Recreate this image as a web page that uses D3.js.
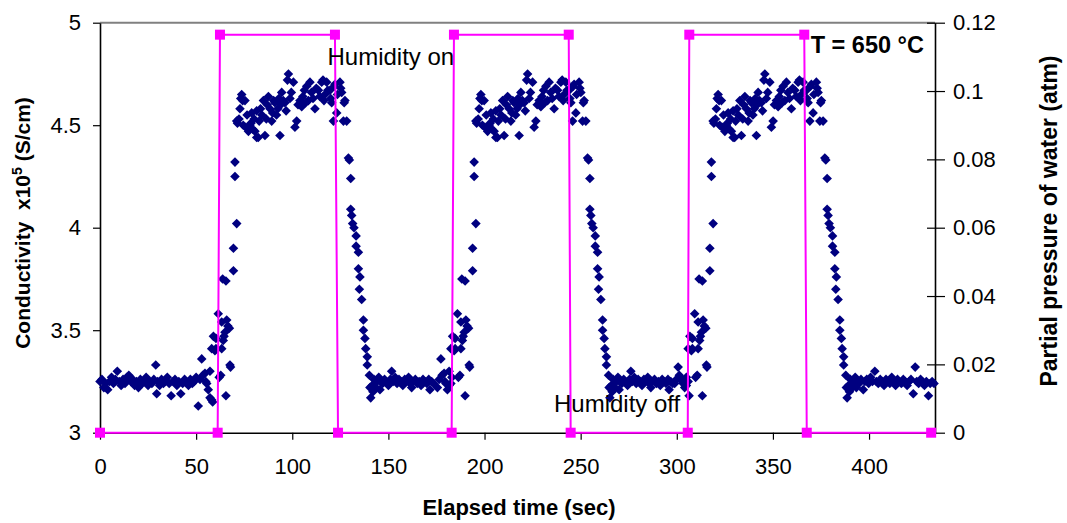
<!DOCTYPE html>
<html>
<head>
<meta charset="utf-8">
<script src="https://cdn.jsdelivr.net/npm/d3@7"></script>
<style>
  body { margin: 0; background: #fff; }
  svg { display: block; font-family: "Liberation Sans", Arial, sans-serif; }
  text { white-space: pre; }
</style>
</head>
<body>
<svg id="chart" width="1067" height="523"></svg>
<script>
// ---- axis ticks ----
const elapsedTicks = [0, 50, 100, 150, 200, 250, 300, 350, 400];
const conductivityTicks = [3, 3.5, 4, 4.5, 5];
const pressureTicks = [0, 0.02, 0.04, 0.06, 0.08, 0.1, 0.12];

// ---- partial pressure of water (atm) switched on/off ----
const pressureTime  = [0, 61.2, 62.4, 122.2, 123.8, 182.9, 184.1, 243.8, 244.8, 305.7, 306.5, 366.3, 367.6, 432.3];
const pressureValue = [0, 0, 0.1165, 0.1165, 0, 0, 0.1165, 0.1165, 0, 0, 0.1165, 0.1165, 0, 0];

// ---- conductivity x10^5 (S/cm) ----
// dry baseline before the first humidity step: [elapsed s, conductivity]
const initialBaseline = [
  [0,3.25],[1,3.26],[2,3.22],[3,3.24],[4,3.21],[5,3.25],[6,3.27],[7,3.24],[8,3.26],[9,3.30],
  [10,3.25],[11,3.23],[12,3.26],[13,3.24],[14,3.27],[15,3.28],[16,3.25],[17,3.26],[18,3.23],[19,3.25],
  [20,3.22],[21,3.26],[22,3.24],[23,3.25],[24,3.27],[25,3.23],[26,3.25],[27,3.24],[28,3.26],[29,3.33],
  [29.5,3.19],[30,3.25],[31,3.23],[32,3.26],[33,3.24],[34,3.25],[35,3.27],[36,3.24],[37,3.18],[38,3.25],
  [39,3.26],[40,3.23],[41,3.25],[42,3.19],[43,3.24],[44,3.26],[45,3.25],[46,3.23],[47,3.26],[48,3.24],
  [49,3.25],[50,3.27]
];

// start of each wet/dry cycle record (s); cycle arrays below use seconds from that start
const cycleStart = [50, 174.4, 297.8];

const cycle1 = [
  // rise
  [1.1,3.13],[2.0,3.26],[2.9,3.36],[3.5,3.28],[4.6,3.29],[5.0,3.25],[5.5,3.24],[6.3,3.21],[7.2,3.30],[7.2,3.17],
  [8.1,3.16],[8.6,3.15],[8.1,3.41],[9.0,3.47],[9.8,3.40],[10.3,3.46],[10.3,3.41],[11.5,3.58],[12.0,3.27],[12.8,3.28],
  [13.3,3.54],[13.3,3.41],[13.8,3.75],[14.1,3.45],[14.5,3.47],[15.0,3.49],[15.5,3.74],[15.5,3.18],[15.9,3.55],[16.5,3.52],
  [17.3,3.51],[17.6,3.33],[17.9,3.32],[19.4,3.79],[19.4,3.90],[20.2,4.25],[20.2,4.32],[21.1,4.02],
  // humid plateau
  [21.1,4.52],[21.5,4.51],[22.3,4.53],[22.8,4.58],[23.2,4.63],[23.7,4.65],[24.2,4.62],[24.5,4.50],[25.4,4.62],[25.8,4.49],
  [26.5,4.55],[27.2,4.47],[28.0,4.50],[28.5,4.51],[28.9,4.56],[29.5,4.48],[30.2,4.53],[30.6,4.47],[31.5,4.57],[31.5,4.44],
  [32.3,4.44],[32.8,4.52],[33.5,4.58],[34.2,4.55],[35.0,4.62],[35.8,4.45],[36.5,4.53],[37.0,4.60],[37.6,4.64],[38.4,4.58],
  [39.3,4.52],[39.8,4.56],[40.3,4.62],[41.0,4.61],[41.8,4.55],[42.5,4.58],[43.0,4.63],[43.6,4.45],[44.0,4.60],[44.5,4.66],
  [45.3,4.62],[46.2,4.61],[46.8,4.57],[47.5,4.72],[48.0,4.75],[48.8,4.63],[49.5,4.66],[50.6,4.71],[51.4,4.49],[52.3,4.52],
  [53.0,4.60],[54.0,4.62],[54.9,4.59],[55.5,4.64],[56.3,4.67],[57.0,4.61],[57.5,4.69],[58.4,4.62],[59.2,4.71],[60.0,4.66],
  [60.8,4.63],[61.8,4.58],[62.5,4.68],[63.6,4.67],[64.3,4.64],[65.3,4.71],[66.0,4.72],[66.5,4.62],[67.0,4.65],[67.9,4.71],
  [68.5,4.67],[69.6,4.67],[70.0,4.63],[70.5,4.61],[71.4,4.52],[71.8,4.69],[72.2,4.70],[73.1,4.56],[73.5,4.65],[74.8,4.71],
  [75.2,4.68],[75.7,4.66],[76.6,4.52],[77.0,4.61],[77.4,4.62],[78.3,4.52],
  // fall
  [79.2,4.34],[79.7,4.33],[80.4,4.24],[80.4,4.09],[80.9,4.06],[81.4,4.02],[82.1,4.00],[83.2,3.96],[83.2,3.91],[84.4,3.88],
  [84.4,3.80],[85.2,3.76],[84.9,3.70],[86.1,3.65],[87.0,3.55],[87.0,3.50],[87.8,3.46],[88.2,3.41],[89.0,3.37],[89.0,3.33],
  [90.1,3.28],[90.4,3.22],[90.8,3.17],
  // dry baseline
  [91.5,3.23],[92.0,3.20],[92.5,3.26],[93.0,3.24],[93.5,3.22],[94.0,3.25],[95.0,3.27],[95.6,3.21],[96.0,3.25],[97.0,3.24],
  [98.0,3.26],[99.0,3.25],[100.0,3.23],[101.0,3.26],[101.7,3.30],[102.5,3.25],[103.5,3.27],[104.5,3.24],[105.5,3.26],[106.5,3.25],
  [107.5,3.23],[108.5,3.26],[109.5,3.25],[110.5,3.27],[111.3,3.24],[112.1,3.22],[113.0,3.25],[114.0,3.26],[115.0,3.24],[116.0,3.25],
  [117.0,3.23],[118.0,3.26],[119.0,3.25],[120.0,3.24],[121.0,3.26],[121.6,3.21],[122.5,3.25],[123.5,3.24]
];

const cycle2 = [
  // rise
  [1.1,3.22],[2.0,3.26],[2.9,3.36],[3.5,3.28],[4.6,3.29],[5.0,3.25],[5.5,3.24],[6.3,3.21],[7.2,3.30],[7.2,3.23],
  [8.1,3.24],[8.6,3.27],[8.1,3.41],[9.0,3.47],[9.8,3.40],[10.3,3.46],[10.3,3.41],[11.5,3.58],[12.0,3.27],[12.8,3.28],
  [13.3,3.54],[13.3,3.41],[13.8,3.75],[14.1,3.45],[14.5,3.47],[15.0,3.49],[15.5,3.74],[15.5,3.18],[15.9,3.55],[16.5,3.52],
  [17.3,3.51],[17.6,3.33],[17.9,3.32],[19.4,3.79],[19.4,3.90],[20.2,4.25],[20.2,4.32],[21.1,4.02],
  // humid plateau
  [21.1,4.52],[21.5,4.51],[22.3,4.53],[22.8,4.58],[23.2,4.63],[23.7,4.65],[24.2,4.62],[24.5,4.50],[25.4,4.62],[25.8,4.49],
  [26.5,4.55],[27.2,4.47],[28.0,4.50],[28.5,4.51],[28.9,4.56],[29.5,4.48],[30.2,4.53],[30.6,4.47],[31.5,4.57],[31.5,4.44],
  [32.3,4.44],[32.8,4.52],[33.5,4.58],[34.2,4.55],[35.0,4.62],[35.8,4.45],[36.5,4.53],[37.0,4.60],[37.6,4.64],[38.4,4.58],
  [39.3,4.52],[39.8,4.56],[40.3,4.62],[41.0,4.61],[41.8,4.55],[42.5,4.58],[43.0,4.63],[43.6,4.45],[44.0,4.60],[44.5,4.66],
  [45.3,4.62],[46.2,4.61],[46.8,4.57],[47.5,4.72],[48.0,4.75],[48.8,4.63],[49.5,4.66],[50.6,4.71],[51.4,4.49],[52.3,4.52],
  [53.0,4.60],[54.0,4.62],[54.9,4.59],[55.5,4.64],[56.3,4.67],[57.0,4.61],[57.5,4.69],[58.4,4.62],[59.2,4.71],[60.0,4.66],
  [60.8,4.63],[61.8,4.58],[62.5,4.68],[63.6,4.67],[64.3,4.64],[65.3,4.71],[66.0,4.72],[66.5,4.62],[67.0,4.65],[67.9,4.71],
  [68.5,4.67],[69.6,4.67],[70.0,4.63],[70.5,4.61],[71.4,4.52],[71.8,4.69],[72.2,4.70],[73.1,4.56],[73.5,4.65],[74.8,4.71],
  [75.2,4.68],[75.7,4.66],[76.6,4.52],[77.0,4.61],[77.4,4.62],[78.3,4.52],
  // fall
  [79.2,4.34],[79.7,4.33],[80.4,4.24],[80.4,4.09],[80.9,4.06],[81.4,4.02],[82.1,4.00],[83.2,3.96],[83.2,3.91],[84.4,3.88],
  [84.4,3.80],[85.2,3.76],[84.9,3.70],[86.1,3.65],[87.0,3.55],[87.0,3.50],[87.8,3.46],[88.2,3.41],[89.0,3.37],[89.0,3.33],
  [90.1,3.28],[90.4,3.22],[90.8,3.17],
  // dry baseline
  [91.5,3.23],[92.0,3.20],[92.5,3.26],[93.0,3.24],[93.5,3.22],[94.0,3.25],[95.0,3.27],[95.6,3.21],[96.0,3.25],[97.0,3.24],
  [98.0,3.26],[99.0,3.25],[100.0,3.23],[101.0,3.26],[101.7,3.30],[102.5,3.25],[103.5,3.27],[104.5,3.24],[105.5,3.26],[106.5,3.25],
  [107.5,3.23],[108.5,3.26],[109.5,3.25],[110.5,3.27],[111.3,3.24],[112.1,3.22],[113.0,3.25],[114.0,3.26],[115.0,3.24],[116.0,3.25],
  [117.0,3.23],[118.0,3.26],[119.0,3.25],[120.0,3.24],[121.0,3.26],[121.6,3.21],[122.5,3.25],[123.5,3.24]
];

const cycle3 = [
  // rise
  [1.1,3.24],[2.0,3.26],[2.9,3.32],[3.5,3.28],[4.6,3.26],[5.0,3.25],[5.5,3.24],[6.3,3.22],[7.2,3.27],[7.2,3.23],
  [8.1,3.25],[8.6,3.18],[8.1,3.41],[9.0,3.47],[9.8,3.40],[10.3,3.46],[10.3,3.41],[11.5,3.58],[12.0,3.27],[12.8,3.28],
  [13.3,3.54],[13.3,3.41],[13.8,3.75],[14.1,3.45],[14.5,3.47],[15.0,3.49],[15.5,3.74],[15.5,3.18],[15.9,3.55],[16.5,3.52],
  [17.3,3.51],[17.6,3.33],[17.9,3.32],[19.4,3.79],[19.4,3.90],[20.2,4.25],[20.2,4.32],[21.1,4.02],
  // humid plateau
  [21.1,4.52],[21.5,4.51],[22.3,4.53],[22.8,4.58],[23.2,4.63],[23.7,4.65],[24.2,4.62],[24.5,4.50],[25.4,4.62],[25.8,4.49],
  [26.5,4.55],[27.2,4.47],[28.0,4.50],[28.5,4.51],[28.9,4.56],[29.5,4.48],[30.2,4.53],[30.6,4.47],[31.5,4.57],[31.5,4.44],
  [32.3,4.44],[32.8,4.52],[33.5,4.58],[34.2,4.55],[35.0,4.62],[35.8,4.45],[36.5,4.53],[37.0,4.60],[37.6,4.64],[38.4,4.58],
  [39.3,4.52],[39.8,4.56],[40.3,4.62],[41.0,4.61],[41.8,4.55],[42.5,4.58],[43.0,4.63],[43.6,4.45],[44.0,4.60],[44.5,4.66],
  [45.3,4.62],[46.2,4.61],[46.8,4.57],[47.5,4.72],[48.0,4.75],[48.8,4.63],[49.5,4.66],[50.6,4.71],[51.4,4.49],[52.3,4.52],
  [53.0,4.60],[54.0,4.62],[54.9,4.59],[55.5,4.64],[56.3,4.67],[57.0,4.61],[57.5,4.69],[58.4,4.62],[59.2,4.71],[60.0,4.66],
  [60.8,4.63],[61.8,4.58],[62.5,4.68],[63.6,4.67],[64.3,4.64],[65.3,4.71],[66.0,4.72],[66.5,4.62],[67.0,4.65],[67.9,4.71],
  [68.5,4.67],[69.6,4.67],[70.0,4.63],[70.5,4.61],[71.4,4.52],[71.8,4.69],[72.2,4.70],[73.1,4.56],[73.5,4.65],[74.8,4.71],
  [75.2,4.68],[75.7,4.66],[76.6,4.52],[77.0,4.61],[77.4,4.62],[78.3,4.52],
  // fall
  [79.2,4.34],[79.7,4.33],[80.4,4.24],[80.4,4.09],[80.9,4.06],[81.4,4.02],[82.1,4.00],[83.2,3.96],[83.2,3.91],[84.4,3.88],
  [84.4,3.80],[85.2,3.76],[84.9,3.70],[86.1,3.65],[87.0,3.55],[87.0,3.50],[87.8,3.46],[88.2,3.41],[89.0,3.37],[89.0,3.33],
  [90.1,3.28],[90.4,3.22],[90.8,3.17],
  // dry baseline to the end of the run
  [91.5,3.23],[92.0,3.20],[92.5,3.26],[93.0,3.24],[93.5,3.22],[94.0,3.25],[95.0,3.27],[95.6,3.22],[96.0,3.25],[97.0,3.24],
  [98.0,3.26],[99.2,3.21],[100.0,3.25],[101.0,3.26],[102.0,3.24],[103.0,3.27],[104.0,3.25],[105.2,3.30],[106.0,3.25],[107.0,3.24],
  [108.0,3.26],[109.0,3.25],[110.0,3.23],[111.0,3.26],[112.0,3.25],[113.0,3.24],[114.0,3.27],[115.0,3.25],[116.0,3.23],[117.0,3.26],
  [118.0,3.25],[119.0,3.24],[120.0,3.26],[121.0,3.25],[122.0,3.23],[123.0,3.25],[124.0,3.26],[125.2,3.19],[126.2,3.32],[127.0,3.25],
  [128.0,3.24],[129.0,3.26],[130.0,3.25],[131.0,3.23],[132.0,3.25],[133.1,3.18],[134.0,3.24],[135.0,3.25],[136.0,3.24]
];

// ---- layout ----
const svg = d3.select("#chart");
const plot = { left: 100, right: 935, top: 22.7, bottom: 432.7 };

const x = d3.scaleLinear().domain([0, 434.3]).range([plot.left, plot.right]);
const y = d3.scaleLinear().domain([3, 5]).range([plot.bottom, plot.top]);
const y2 = d3.scaleLinear().domain([0, 0.12]).range([plot.bottom, plot.top]);

const conductivity = initialBaseline.map(([t, v]) => ({ t, v }));
[cycle1, cycle2, cycle3].forEach((cycle, i) =>
  cycle.forEach(([t, v]) => conductivity.push({ t: cycleStart[i] + t, v })));

const pressure = pressureTime.map((t, i) => ({ t, p: pressureValue[i] }));

// top border of the plot area
svg.append("line")
  .attr("x1", plot.left).attr("x2", plot.right)
  .attr("y1", plot.top).attr("y2", plot.top)
  .attr("stroke", "#808080").attr("stroke-width", 2);

// axes
const tickFont = 22;
function styleAxis(g) {
  g.select(".domain").attr("stroke", "#000").attr("stroke-width", 1.6);
  g.selectAll(".tick line").attr("stroke", "#000").attr("stroke-width", 1.2);
  g.selectAll(".tick text").attr("font-size", tickFont).attr("fill", "#000")
    .attr("font-family", "'Liberation Sans', Arial, sans-serif");
}

svg.append("g")
  .attr("transform", `translate(${plot.left},0)`)
  .call(d3.axisLeft(y).tickValues(conductivityTicks).tickSize(7).tickSizeOuter(0).tickPadding(12)
    .tickFormat(d => String(d)))
  .call(styleAxis);

svg.append("g")
  .attr("transform", `translate(0,${plot.bottom})`)
  .call(d3.axisBottom(x).tickValues(elapsedTicks).tickSize(7).tickSizeOuter(0).tickPadding(19)
    .tickFormat(d => String(d)))
  .call(styleAxis);

const right = svg.append("g")
  .attr("transform", `translate(${plot.right},0)`)
  .call(d3.axisRight(y2).tickValues(pressureTicks).tickSize(10).tickSizeOuter(0).tickPadding(8)
    .tickFormat(d => String(d)))
  .call(styleAxis);
right.selectAll(".tick line").attr("x1", -8);

// conductivity markers (diamonds)
const r = 4.8;
const diamond = `M0,${-r}L${r},0L0,${r}L${-r},0Z`;
svg.append("g").selectAll("path")
  .data(conductivity)
  .join("path")
  .attr("d", diamond)
  .attr("transform", d => `translate(${x(d.t)},${y(d.v)})`)
  .attr("fill", "#000080");

// water partial pressure line with square markers
svg.append("path")
  .datum(pressure)
  .attr("d", d3.line().x(d => x(d.t)).y(d => y2(d.p)))
  .attr("fill", "none")
  .attr("stroke", "#ff00ff")
  .attr("stroke-width", 2);

svg.append("g").selectAll("rect")
  .data(pressure)
  .join("rect")
  .attr("x", d => x(d.t) - 5)
  .attr("y", d => y2(d.p) - 5)
  .attr("width", 10).attr("height", 10)
  .attr("fill", "#ff00ff");

// annotations
svg.append("text").attr("x", 327.5).attr("y", 65)
  .attr("font-size", 24).attr("fill", "#000").text("Humidity on");
svg.append("text").attr("x", 554).attr("y", 411.7)
  .attr("font-size", 24).attr("fill", "#000").text("Humidity off");
svg.append("text").attr("x", 810.7).attr("y", 53.3)
  .attr("font-size", 23.5).attr("font-weight", "bold").attr("fill", "#000").text("T = 650 °C");

// axis titles
svg.append("text")
  .attr("x", 519).attr("y", 515)
  .attr("text-anchor", "middle")
  .attr("font-size", 22).attr("font-weight", "bold")
  .text("Elapsed time (sec)");

const leftTitle = svg.append("text")
  .attr("transform", "translate(30,223) rotate(-90)")
  .attr("text-anchor", "middle")
  .attr("font-size", 21).attr("font-weight", "bold");
leftTitle.append("tspan").text("Conductivity  x10");
leftTitle.append("tspan").attr("font-size", 14).attr("dy", -8).text("5");
leftTitle.append("tspan").attr("dy", 8).text(" (S/cm)");

svg.append("text")
  .attr("transform", "translate(1057,221) rotate(-90)")
  .attr("text-anchor", "middle")
  .attr("font-size", 23).attr("font-weight", "bold")
  .text("Partial pressure of water (atm)");
</script>
</body>
</html>
